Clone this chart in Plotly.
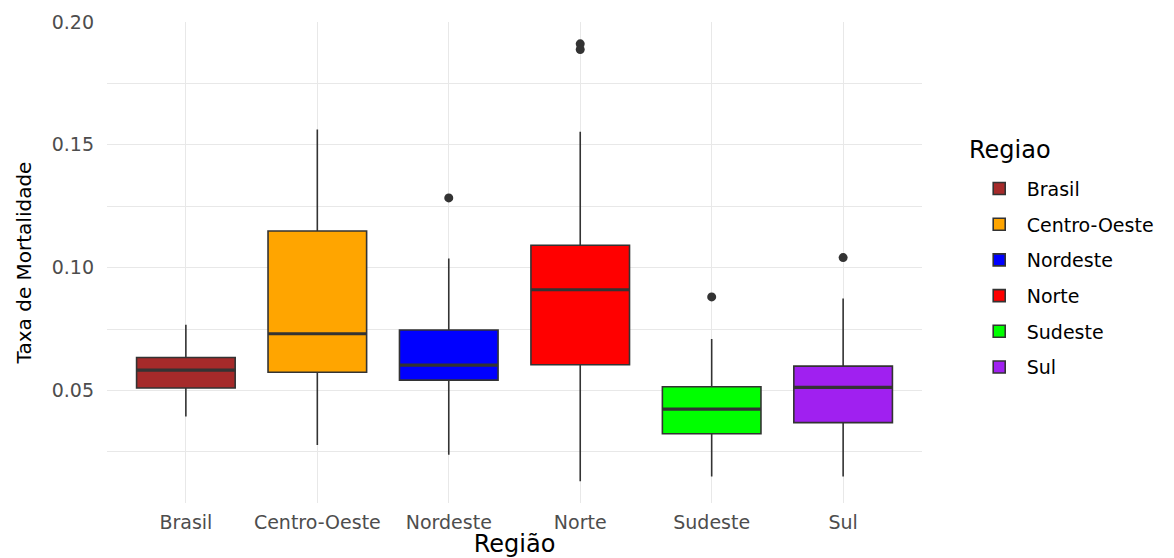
import plotly.graph_objects as go

regions = ["Brasil", "Centro-Oeste", "Nordeste", "Norte", "Sudeste", "Sul"]
colors = ["#A52A2A", "#FFA500", "#0000FF", "#FF0000", "#00FF00", "#A020F0"]
lower = [0.0394, 0.0278, 0.0238, 0.0131, 0.0150, 0.0150]
q1 = [0.0510, 0.0574, 0.0542, 0.0605, 0.0324, 0.0369]
median = [0.0583, 0.0731, 0.0603, 0.0910, 0.0424, 0.0513]
q3 = [0.0634, 0.1149, 0.0746, 0.1091, 0.0515, 0.0599]
upper = [0.0768, 0.1562, 0.1037, 0.1553, 0.0710, 0.0874]
outlier_region = ["Nordeste", "Norte", "Norte", "Sudeste", "Sul"]
outlier_value = [0.1284, 0.1911, 0.1888, 0.0881, 0.1041]
yticks = [0.05, 0.10, 0.15, 0.20]
ytick_labels = ["0.05", "0.10", "0.15", "0.20"]
yminor = [0.025, 0.075, 0.125, 0.175]

FONT = "DejaVu Sans, Verdana, sans-serif"
EDGE = "#333333"
fig = go.Figure()
for i, r in enumerate(regions):
    fig.add_trace(go.Box(
        x=[r], name=r, q1=[q1[i]], median=[median[i]], q3=[q3[i]],
        lowerfence=[lower[i]], upperfence=[upper[i]],
        fillcolor=colors[i], line=dict(color=EDGE, width=1.6),
        width=0.75, whiskerwidth=0, boxpoints=False,
        legendgroup=r, showlegend=True,
    ))
# thicker median bar (ggplot draws the median with a heavier stroke)
for i, r in enumerate(regions):
    fig.add_trace(go.Box(
        x=[r], name=r, q1=[median[i]], median=[median[i]], q3=[median[i]],
        lowerfence=[median[i]], upperfence=[median[i]],
        fillcolor="rgba(0,0,0,0)", line=dict(color=EDGE, width=3.2),
        width=0.75, whiskerwidth=0, boxpoints=False,
        legendgroup=r, showlegend=False, hoverinfo="skip",
    ))
fig.add_trace(go.Scatter(
    x=outlier_region, y=outlier_value, mode="markers",
    marker=dict(color=EDGE, size=9), showlegend=False, hoverinfo="y",
))

fig.update_layout(
    width=1174, height=558,
    margin=dict(l=107, r=252, t=22, b=55),
    plot_bgcolor="white", paper_bgcolor="white",
    boxmode="overlay",
    font=dict(family=FONT, color="#4D4D4D", size=19),
    legend=dict(
        font=dict(size=19, color="black"),
        x=1.061, xanchor="left", y=0.693, yanchor="top",
        tracegroupgap=8, itemwidth=45,
    ),
    annotations=[dict(
        text="Regiao", xref="paper", yref="paper", x=1.0552, y=0.734,
        xanchor="left", yanchor="middle", showarrow=False,
        font=dict(size=24, color="black", family=FONT),
    )],
    xaxis=dict(
        categoryorder="array", categoryarray=regions,
        range=[-0.6, 5.6], showgrid=True, gridcolor="#E8E8E8", gridwidth=1.4,
        zeroline=False, showline=False, ticks="", automargin=False,
        tickfont=dict(size=19, color="#4D4D4D"), ticklabelstandoff=6,
        title=dict(text="Região", font=dict(size=24, color="black"), standoff=9),
    ),
    yaxis=dict(
        range=[0.0042, 0.2000], tickvals=yticks, ticktext=ytick_labels,
        showgrid=True, gridcolor="#E8E8E8", gridwidth=1.4,
        minor=dict(tickvals=yminor, showgrid=True, gridcolor="#E8E8E8", gridwidth=1.1),
        zeroline=False, showline=False, ticks="", automargin=False,
        tickfont=dict(size=19, color="#4D4D4D"), ticklabelstandoff=12,
        title=dict(text="Taxa de Mortalidade", font=dict(size=20, color="black"), standoff=14),
    ),
)
fig.write_html("out.html")
